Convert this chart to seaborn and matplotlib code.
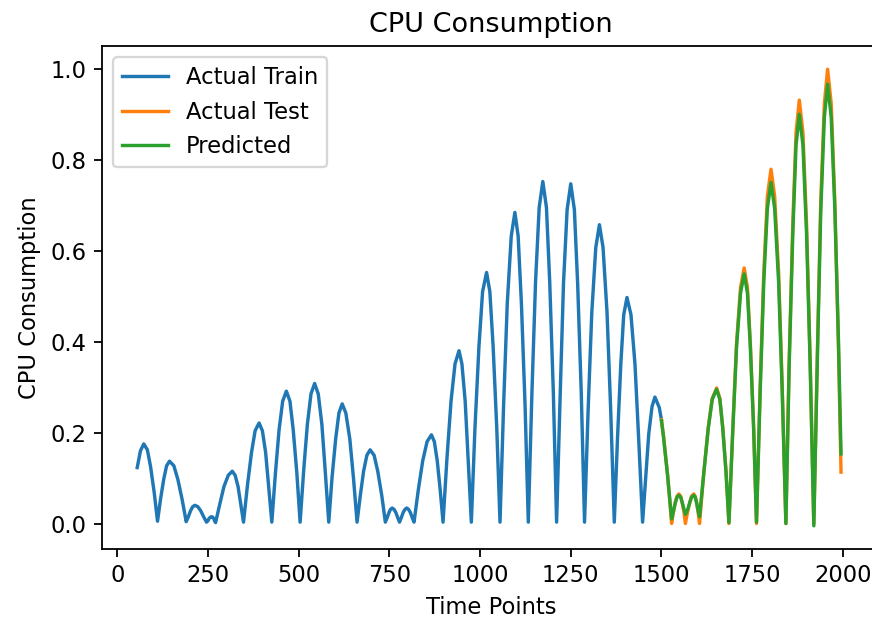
"""
CPU consumption: actual train / actual test / predicted.
"""

import matplotlib
matplotlib.use('Agg')
import matplotlib.pyplot as plt
import seaborn as sns

# values (arch zeros, shoulders and peaks)
train_t = [55, 64, 73, 83, 92, 102,
           111, 119, 128, 136, 144, 156, 167, 179,
           190, 196, 202, 208, 214, 222, 230, 238,
           246, 250, 253, 257, 260, 263, 266, 268,
           271, 283, 294, 306, 317, 325, 333, 340,
           348, 359, 370, 380, 391, 400, 409, 417,
           426, 436, 446, 456, 466, 476, 485, 495,
           504, 514, 524, 534, 544, 554, 564, 573,
           583, 592, 602, 611, 620, 630, 641, 651,
           661, 670, 679, 688, 697, 708, 718, 729,
           739, 744, 749, 753, 758, 763, 768, 773,
           778, 783, 788, 793, 798, 803, 808, 813,
           818, 830, 842, 854, 866, 874, 882, 890,
           898, 909, 920, 931, 942, 950, 959, 967,
           976, 986, 997, 1007, 1018, 1027, 1036, 1046,
           1055, 1065, 1075, 1086, 1096, 1105, 1114, 1124,
           1133, 1143, 1153, 1163, 1173, 1183, 1192, 1202,
           1211, 1221, 1230, 1240, 1250, 1260, 1269, 1279,
           1288, 1298, 1308, 1319, 1329, 1339, 1350, 1360,
           1370, 1379, 1388, 1396, 1405, 1416, 1427, 1437,
           1448, 1457, 1465, 1474, 1482, 1494, 1500]
train_y = [0.123, 0.160, 0.175, 0.162, 0.124, 0.067,
           0.005, 0.052, 0.097, 0.127, 0.137, 0.127, 0.097, 0.052,
           0.004, 0.015, 0.028, 0.037, 0.040, 0.037, 0.028, 0.015,
           0.003, 0.006, 0.011, 0.014, 0.015, 0.014, 0.011, 0.006,
           0.002, 0.044, 0.081, 0.106, 0.115, 0.106, 0.081, 0.044,
           0.003, 0.085, 0.156, 0.204, 0.221, 0.204, 0.156, 0.085,
           0.003, 0.111, 0.206, 0.269, 0.291, 0.269, 0.206, 0.111,
           0.003, 0.118, 0.218, 0.285, 0.308, 0.285, 0.218, 0.118,
           0.003, 0.101, 0.186, 0.243, 0.263, 0.243, 0.186, 0.101,
           0.003, 0.062, 0.115, 0.150, 0.162, 0.150, 0.115, 0.062,
           0.003, 0.013, 0.024, 0.031, 0.034, 0.031, 0.024, 0.013,
           0.003, 0.013, 0.024, 0.031, 0.034, 0.031, 0.024, 0.013,
           0.003, 0.075, 0.138, 0.180, 0.195, 0.180, 0.138, 0.075,
           0.003, 0.146, 0.269, 0.351, 0.380, 0.351, 0.269, 0.146,
           0.003, 0.211, 0.390, 0.510, 0.552, 0.510, 0.390, 0.211,
           0.003, 0.262, 0.484, 0.632, 0.684, 0.632, 0.484, 0.262,
           0.003, 0.288, 0.532, 0.695, 0.752, 0.695, 0.532, 0.288,
           0.003, 0.286, 0.528, 0.690, 0.747, 0.690, 0.528, 0.286,
           0.003, 0.252, 0.464, 0.607, 0.657, 0.607, 0.464, 0.252,
           0.003, 0.190, 0.351, 0.459, 0.497, 0.459, 0.351, 0.190,
           0.003, 0.106, 0.197, 0.257, 0.278, 0.255, 0.228]

test_t = [1500, 1505, 1517, 1528,
          1533, 1538, 1543, 1548, 1553, 1557, 1562, 1566,
          1572, 1578, 1583, 1589, 1593, 1597, 1601, 1605,
          1617, 1629, 1640, 1652, 1661, 1669, 1678, 1686,
          1697, 1707, 1718, 1728, 1737, 1745, 1754, 1762,
          1772, 1782, 1792, 1802, 1812, 1823, 1833, 1843,
          1852, 1862, 1871, 1880, 1890, 1900, 1910, 1920,
          1930, 1939, 1949, 1958, 1968, 1978, 1988, 1995]
test_y = [0.228, 0.197, 0.106, 0.000,
          0.025, 0.046, 0.060, 0.065, 0.060, 0.046, 0.025, 0.000,
          0.025, 0.046, 0.060, 0.065, 0.060, 0.046, 0.025, 0.000,
          0.114, 0.211, 0.275, 0.298, 0.275, 0.211, 0.114, 0.000,
          0.215, 0.397, 0.519, 0.562, 0.519, 0.397, 0.215, 0.000,
          0.298, 0.551, 0.720, 0.779, 0.720, 0.551, 0.298, 0.000,
          0.357, 0.658, 0.860, 0.931, 0.860, 0.658, 0.357, 0.000,
          0.383, 0.706, 0.923, 0.999, 0.923, 0.706, 0.383, 0.113]
pred_y = [0.226, 0.195, 0.105, 0.010,
          0.027, 0.045, 0.058, 0.062, 0.058, 0.047, 0.032, 0.020,
          0.030, 0.046, 0.058, 0.062, 0.058, 0.045, 0.028, 0.015,
          0.113, 0.209, 0.273, 0.295, 0.273, 0.209, 0.113, 0.002,
          0.211, 0.388, 0.507, 0.549, 0.507, 0.388, 0.211, 0.003,
          0.287, 0.530, 0.693, 0.750, 0.693, 0.530, 0.287, 0.000,
          0.345, 0.636, 0.832, 0.900, 0.832, 0.636, 0.345, -0.005,
          0.370, 0.683, 0.893, 0.966, 0.893, 0.690, 0.400, 0.153]

fig = plt.figure(figsize=(872 / 163, 620 / 163), dpi=163)
# the reference is cut off just at the right edge of the axes
ax = fig.add_axes([0.117, 0.1153, 0.892, 0.8105])

sns.lineplot(x=train_t, y=train_y, color='C0', lw=1.5, label='Actual Train', ax=ax)
sns.lineplot(x=test_t, y=test_y, color='C1', lw=1.5, label='Actual Test', ax=ax)
sns.lineplot(x=test_t, y=pred_y, color='C2', lw=1.5, label='Predicted', ax=ax)

ax.set_xlim(-42, 2102)
ax.set_ylim(-0.055, 1.05)
ax.spines['right'].set_visible(False)
ax.set_xticks([0, 250, 500, 750, 1000, 1250, 1500, 1750, 2000])
ax.set_yticks([0.0, 0.2, 0.4, 0.6, 0.8, 1.0])
ax.set_title('CPU Consumption')
ax.set_xlabel('Time Points')
ax.set_ylabel('CPU Consumption')
ax.legend(loc='upper left')

plt.savefig('out.png', dpi=163)
